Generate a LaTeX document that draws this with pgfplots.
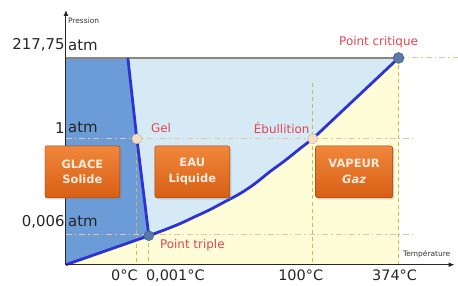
\documentclass[border=0pt]{standalone}
\usepackage{pgfplots}
\pgfplotsset{compat=1.18}
\usepackage{fontspec}
\setmainfont{DejaVu Sans}
\usetikzlibrary{shadows,arrows.meta}
\definecolor{solidc}{RGB}{108,156,216}
\definecolor{liqc}{RGB}{214,234,245}
\definecolor{vapc}{RGB}{255,252,216}
\definecolor{curvec}{RGB}{45,50,215}
\definecolor{redlab}{RGB}{222,70,80}
\definecolor{dashc}{RGB}{235,195,150}
\definecolor{vdashc}{RGB}{200,185,90}
\definecolor{boxtop}{RGB}{240,135,60}
\definecolor{boxbot}{RGB}{215,95,20}
\definecolor{ptc}{RGB}{85,120,175}
\definecolor{peach}{RGB}{245,222,195}
\begin{document}
\begin{tikzpicture}
\begin{axis}[scale only axis, width=458bp, height=286bp,
  xmin=0, xmax=458, ymin=0, ymax=286, hide axis, clip=false]
% invisible bounding
\addplot[draw=none] coordinates {(0,0)(458,286)};
% vapour region
\addplot[fill=vapc, draw=none] coordinates {(66,21)(399,21)(399,228)(66,228)} -- cycle;
% liquid region
\addplot[fill=liqc, draw=none] coordinates {(128,228)(399,228)(313,147)(300,137)(285,125)(270,114)(255,102)(240,92)(225,84)(210,76)(195,69)(180,62)(165,56)(149,50)(137,147)} -- cycle;
% solid region
\addplot[fill=solidc, draw=none] coordinates {(66,21)(149,50)(137,147)(128,228)(66,228)} -- cycle;
% dashed horizontal lines
\addplot[dashc, line width=1bp, dash pattern=on 6bp off 3bp on 1.5bp off 3bp] coordinates {(399,228)(458,228)};
\addplot[dashc, line width=1bp, dash pattern=on 6bp off 3bp on 1.5bp off 3bp] coordinates {(66,147)(413,147)};
\addplot[dashc, line width=1bp, dash pattern=on 6bp off 3bp on 1.5bp off 3bp] coordinates {(66,51)(413,51)};
% vertical dashed lines
\addplot[vdashc, line width=0.8bp, dash pattern=on 4bp off 3bp] coordinates {(137,147)(137,21)};
\addplot[vdashc, line width=0.8bp, dash pattern=on 4bp off 3bp] coordinates {(149,50)(149,21)};
\addplot[vdashc, line width=0.8bp, dash pattern=on 4bp off 3bp] coordinates {(313,203)(313,21)};
\addplot[vdashc, line width=0.8bp, dash pattern=on 4bp off 3bp] coordinates {(399,228)(399,21)};
% top solid line
\addplot[color={rgb,255:red,140;green,135;blue,120}, line width=1.2bp] coordinates {(66,228)(399,228)};
% curves
\addplot[curvec, line width=2.8bp] coordinates {(66,21)(149,50)};
\addplot[curvec, line width=2.8bp] coordinates {(128,228)(137,147)(149,50)};
\addplot[curvec, line width=2.8bp, smooth] coordinates {(149,50)(165,56)(180,62)(195,69)(210,76)(225,84)(240,92)(255,102)(270,114)(285,125)(300,137)(313,147)};
\addplot[curvec, line width=2.8bp] coordinates {(313,147)(399,228)};
% points
\addplot[only marks, mark=*, mark size=5bp, mark options={fill=ptc, draw=ptc!80!black}] coordinates {(149,50)};
\addplot[only marks, mark=*, mark size=5.5bp, mark options={fill=ptc!85!gray, draw=ptc!70!black}] coordinates {(399,228)};
\addplot[only marks, mark=*, mark size=5bp, mark options={fill=peach, draw=peach!80!black}] coordinates {(313,147)(137,147)};
% axes
\addplot[black!85, line width=1bp, -{Latex[length=6bp,width=5bp]}] coordinates {(66,21)(66,276)};
\addplot[black!85, line width=1bp, -{Latex[length=6bp,width=5bp]}] coordinates {(66,21)(455,21)};
% boxes
\node[draw=boxbot!70!black, line width=0.4bp, rounded corners=2bp, top color=boxtop, bottom color=boxbot, drop shadow={opacity=0.35, shadow xshift=1.5bp, shadow yshift=-1.5bp}, minimum width=75bp, minimum height=52bp, text={rgb,255:red,255;green,236;blue,220}, align=center, font=\fontsize{11.5}{16}\selectfont\bfseries] at (82.5,114) {GLACE\\Solide};
\node[draw=boxbot!70!black, line width=0.4bp, rounded corners=2bp, top color=boxtop, bottom color=boxbot, drop shadow={opacity=0.35, shadow xshift=1.5bp, shadow yshift=-1.5bp}, minimum width=75bp, minimum height=52bp, text={rgb,255:red,255;green,236;blue,220}, align=center, font=\fontsize{11.5}{16}\selectfont\bfseries] at (192.5,114) {EAU\\Liquide};
\node[draw=boxbot!70!black, line width=0.4bp, rounded corners=2bp, top color=boxtop, bottom color=boxbot, drop shadow={opacity=0.35, shadow xshift=1.5bp, shadow yshift=-1.5bp}, minimum width=77bp, minimum height=52bp, text={rgb,255:red,255;green,236;blue,220}, align=center, font=\fontsize{11.5}{16}\selectfont\bfseries] at (354.5,114) {VAPEUR\\\itshape Gaz};
% y labels
\node[anchor=east, inner sep=0pt, font=\fontsize{15}{16}\selectfont, black!85] at (65,241) {217,75};
\node[anchor=west, inner sep=0pt, font=\fontsize{15}{16}\selectfont, black!85] at (68,241) {atm};
\node[anchor=east, inner sep=0pt, font=\fontsize{15}{16}\selectfont, black!85] at (65,158) {1};
\node[anchor=west, inner sep=0pt, font=\fontsize{15}{16}\selectfont, black!85] at (68,158) {atm};
\node[anchor=east, inner sep=0pt, font=\fontsize{15}{16}\selectfont, black!85] at (65,64) {0,006};
\node[anchor=west, inner sep=0pt, font=\fontsize{15}{16}\selectfont, black!85] at (68,64) {atm};
\node[anchor=west, inner sep=0pt, font=\fontsize{7.5}{9}\selectfont, black!80] at (68,265) {Pression};
\node[anchor=east, inner sep=0pt, font=\fontsize{7.5}{9}\selectfont, black!80] at (451,31) {Température};
% x labels
\node[anchor=east, inner sep=0pt, font=\fontsize{14.5}{16}\selectfont, black!85] at (138,10) {0°C};
\node[anchor=west, inner sep=0pt, font=\fontsize{14.5}{16}\selectfont, black!85] at (146,10) {0,001°C};
\node[inner sep=0pt, font=\fontsize{14.5}{16}\selectfont, black!85] at (301,10) {100°C};
\node[inner sep=0pt, font=\fontsize{14.5}{16}\selectfont, black!85] at (395,10) {374°C};
% red labels
\node[anchor=west, inner sep=0pt, font=\fontsize{12}{13}\selectfont, redlab] at (151,158) {Gel};
\node[anchor=east, inner sep=0pt, font=\fontsize{12}{13}\selectfont, redlab] at (310,158) {Ébullition};
\node[inner sep=0pt, font=\fontsize{12}{13}\selectfont, redlab] at (379,244) {Point critique};
\node[anchor=west, inner sep=0pt, font=\fontsize{12}{13}\selectfont, redlab] at (160,41) {Point triple};
\end{axis}
\end{tikzpicture}
\end{document}
